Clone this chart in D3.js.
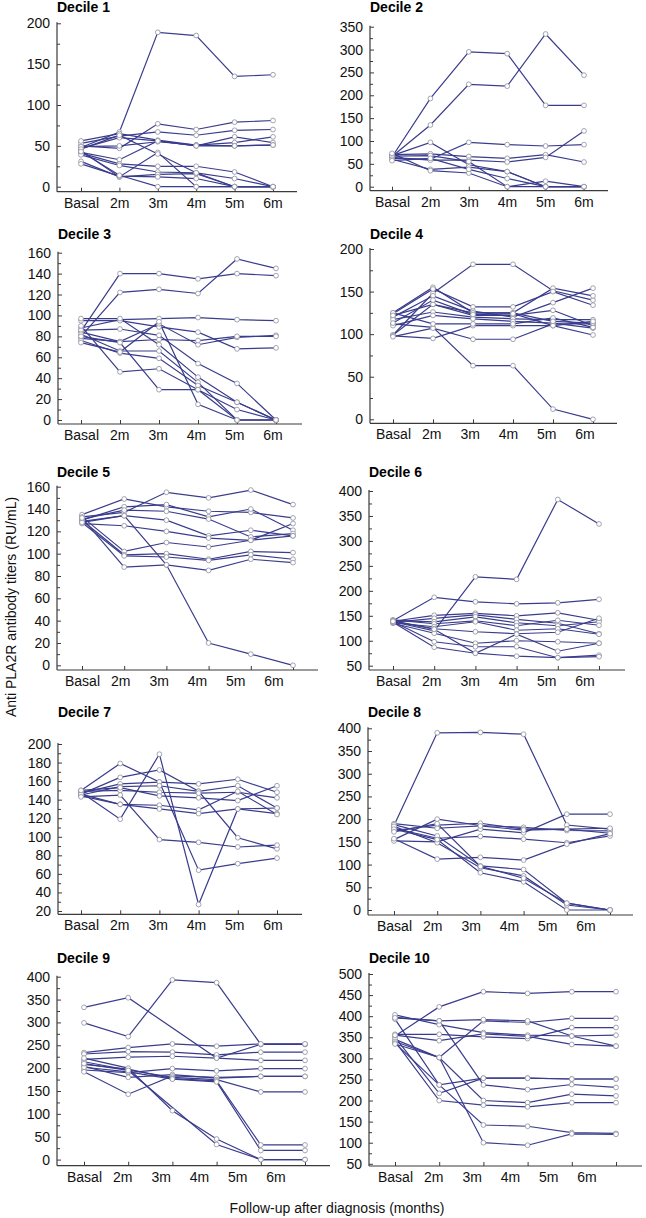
<!DOCTYPE html>
<html>
<head>
<meta charset="utf-8">
<script src="https://cdn.jsdelivr.net/npm/d3@7"></script>
<style>
  html, body { margin: 0; padding: 0; background: #fff; }
  svg { display: block; font-family: "Liberation Sans", Arial, sans-serif; }
</style>
</head>
<body>
<svg id="chart" width="646" height="1218"></svg>
<script>
// ---------- DATA ----------
const categories = ["Basal", "2m", "3m", "4m", "5m", "6m"];

const decile1 = [
  [48, 67, 189, 185, 135, 137],
  [50, 47, 77, 70, 79, 81],
  [53, 62, 67, 63, 69, 70],
  [56, 65, 57, 51, 54, 61],
  [47, 60, 56, 50, 61, 54],
  [49, 50, 55, 51, 50, 51],
  [44, 12, 42, 0, 0, 0],
  [42, 33, 56, 50, 50, 51],
  [41, 28, 25, 25, 18, 0],
  [39, 26, 18, 17, 10, 0],
  [31, 12, 15, 16, 0, 0],
  [28, 13, 12, 10, 0, 0],
  [46, 63, 40, 17, 0, 0],
  [43, 14, 0, 0, 0, 0]
];
const decile2 = [
  [65, 193, 295, 291, 178, 178],
  [66, 135, 224, 220, 334, 244],
  [68, 97, 48, 33, 0, 0],
  [62, 60, 97, 92, 89, 92],
  [70, 72, 66, 62, 70, 54],
  [64, 58, 58, 54, 64, 122],
  [67, 68, 55, 0, 12, 0],
  [60, 38, 43, 33, 0, 0],
  [73, 35, 30, 0, 0, 0],
  [57, 62, 38, 18, 0, 0]
];
const decile3 = [
  [85, 140, 140, 135, 140, 138],
  [80, 122, 125, 121, 154, 145],
  [88, 96, 97, 98, 96, 95],
  [95, 95, 89, 84, 68, 69],
  [78, 75, 92, 72, 79, 81],
  [84, 75, 77, 76, 80, 80],
  [86, 87, 81, 54, 35, 0],
  [97, 97, 72, 41, 17, 0],
  [82, 66, 66, 36, 0, 0],
  [76, 64, 59, 33, 17, 0],
  [90, 46, 49, 29, 10, 0],
  [80, 74, 29, 29, 0, 0],
  [74, 65, 94, 15, 0, 0]
];
const decile4 = [
  [99, 148, 182, 182, 151, 140],
  [112, 108, 63, 63, 12, 0],
  [125, 155, 125, 125, 154, 145],
  [124, 153, 132, 132, 150, 134],
  [120, 145, 127, 120, 137, 154],
  [99, 135, 122, 122, 128, 110],
  [117, 126, 120, 118, 117, 117],
  [110, 122, 118, 115, 113, 107],
  [98, 95, 110, 110, 110, 99],
  [97, 107, 94, 94, 112, 112],
  [125, 112, 112, 112, 119, 108],
  [122, 135, 125, 125, 115, 113],
  [113, 140, 123, 124, 110, 115]
];
const decile5 = [
  [133, 137, 155, 150, 157, 144],
  [135, 149, 142, 138, 137, 132],
  [130, 142, 144, 133, 140, 121],
  [131, 139, 138, 131, 115, 118],
  [128, 134, 130, 116, 121, 116],
  [127, 125, 120, 114, 112, 127],
  [129, 134, 90, 20, 10, 0],
  [133, 102, 110, 106, 112, 116],
  [130, 99, 100, 95, 102, 101],
  [128, 98, 97, 94, 99, 95],
  [132, 88, 90, 85, 95, 92]
];
const decile6 = [
  [138, 120, 228, 223, 383, 334],
  [140, 187, 178, 174, 176, 183],
  [139, 151, 155, 150, 156, 141],
  [137, 145, 152, 143, 135, 114],
  [141, 138, 148, 136, 130, 138],
  [142, 134, 140, 130, 141, 131],
  [136, 128, 138, 121, 124, 113],
  [140, 124, 118, 114, 117, 145],
  [135, 115, 95, 100, 98, 95],
  [138, 98, 88, 88, 66, 71],
  [137, 87, 75, 69, 66, 68],
  [139, 123, 75, 113, 79, 95]
];
const decile7 = [
  [148, 119, 189, 27, 130, 125],
  [150, 179, 159, 64, 71, 77],
  [146, 164, 172, 149, 99, 87],
  [147, 157, 159, 157, 162, 148],
  [145, 154, 155, 149, 155, 131],
  [149, 150, 148, 147, 148, 142],
  [144, 135, 134, 129, 149, 124],
  [146, 135, 130, 125, 130, 131],
  [143, 145, 97, 94, 89, 91],
  [150, 153, 144, 142, 139, 155]
];
const decile8 = [
  [186, 390, 391, 387, 187, 178],
  [155, 200, 186, 182, 175, 174],
  [152, 150, 178, 170, 211, 211],
  [180, 158, 162, 156, 148, 163],
  [175, 187, 191, 178, 178, 180],
  [190, 180, 185, 176, 178, 169],
  [157, 112, 116, 110, 145, 168],
  [188, 163, 97, 89, 15, 0],
  [184, 148, 93, 75, 11, 0],
  [178, 155, 82, 62, 0, 0],
  [172, 190, 96, 70, 15, 0]
];
const decile9 = [
  [299, 269, 393, 387, 252, 252],
  [333, 354, null, 222, 252, 252],
  [234, 245, 253, 248, 253, 253],
  [231, 236, 235, 229, 235, 235],
  [219, 224, 226, 222, 217, 217],
  [196, 190, 199, 194, 199, 199],
  [204, 180, 186, 178, 182, 182],
  [192, 143, 183, 180, 182, 182],
  [214, 196, 180, 175, 148, 148],
  [208, 198, 177, 172, 32, 32],
  [202, 192, 176, 170, 20, 20],
  [222, 200, 107, 45, 0, 0],
  [210, 195, null, 33, 0, 0]
];
const decile10 = [
  [353, 422, 458, 454, 458, 458],
  [340, 302, 389, 385, 395, 395],
  [397, 389, 392, 389, 353, 329],
  [403, 380, 361, 355, 353, 355],
  [357, 357, 351, 347, 373, 373],
  [393, 237, 253, 253, 251, 251],
  [350, 217, 253, 253, 251, 251],
  [396, 389, 237, 226, 238, 231],
  [345, 302, 200, 195, 215, 211],
  [340, 200, 189, 185, 195, 195],
  [336, 237, 142, 139, 124, 122],
  [334, 302, 100, 94, 121, 120],
  [355, 342, 358, 352, 333, 329]
];

const yTicks1 = [0, 50, 100, 150, 200];
const yTicks2 = [0, 50, 100, 150, 200, 250, 300, 350];
const yTicks3 = [0, 20, 40, 60, 80, 100, 120, 140, 160];
const yTicks4 = [0, 50, 100, 150, 200];
const yTicks5 = [0, 20, 40, 60, 80, 100, 120, 140, 160];
const yTicks6 = [50, 100, 150, 200, 250, 300, 350, 400];
const yTicks7 = [20, 40, 60, 80, 100, 120, 140, 160, 180, 200];
const yTicks8 = [0, 50, 100, 150, 200, 250, 300, 350, 400];
const yTicks9 = [0, 50, 100, 150, 200, 250, 300, 350, 400];
const yTicks10 = [50, 100, 150, 200, 250, 300, 350, 400, 450, 500];

const titles = ["Decile 1","Decile 2","Decile 3","Decile 4","Decile 5","Decile 6","Decile 7","Decile 8","Decile 9","Decile 10"];
const yLabel = "Anti PLA2R antibody titers (RU/mL)";
const xLabel = "Follow-up after diagnosis (months)";

// ---------- LAYOUT ----------
const layout = [
  {ax:57,  x0:81,  x1:273, xe:297, yLo:186.7, yHi:23.3,  axY:191.7, tY:12},
  {ax:370, x0:392, x1:584, xe:608, yLo:186.7, yHi:26.7,  axY:190.7, tY:12},
  {ax:58,  x0:81,  x1:276, xe:302, yLo:420,   yHi:252.7, axY:424,   tY:239},
  {ax:370, x0:393, x1:593, xe:617, yLo:419.3, yHi:249,   axY:423.3, tY:239},
  {ax:57,  x0:82,  x1:293, xe:318, yLo:665.3, yHi:486.7, axY:670,   tY:477},
  {ax:369, x0:393, x1:599, xe:625, yLo:665.7, yHi:491,   axY:670,   tY:477},
  {ax:58,  x0:81,  x1:277, xe:302, yLo:911,   yHi:744,   axY:914.3, tY:717},
  {ax:368, x0:394, x1:610, xe:633, yLo:910,   yHi:728.3, axY:915,   tY:717},
  {ax:57,  x0:84,  x1:305, xe:330, yLo:1159.6,yHi:976.7, axY:1165.7,tY:963},
  {ax:369, x0:395, x1:616, xe:642, yLo:1163.8,yHi:974,   axY:1166,  tY:963}
];
const datasets = [decile1, decile2, decile3, decile4, decile5, decile6, decile7, decile8, decile9, decile10];
const tickSets = [yTicks1, yTicks2, yTicks3, yTicks4, yTicks5, yTicks6, yTicks7, yTicks8, yTicks9, yTicks10];

const lineColor = "#3a3c8c";
const axisColor = "#3a3a3a";
const labelStep = 38.3;

const svg = d3.select("#chart");

datasets.forEach((data, p) => {
  const L = layout[p];
  const ticks = tickSets[p];
  const g = svg.append("g");

  const x = d3.scaleLinear().domain([0, categories.length - 1]).range([L.x0, L.x1]);
  const y = d3.scaleLinear().domain([ticks[0], ticks[ticks.length - 1]]).range([L.yLo, L.yHi]);
  const xl = d3.scaleLinear().domain([0, categories.length - 1])
               .range([L.x0, L.x0 + labelStep * (categories.length - 1)]);

  // title
  g.append("text").attr("x", L.ax).attr("y", L.tY)
    .attr("font-size", 14).attr("font-weight", "bold").attr("fill", "#000")
    .text(titles[p]);

  // y axis major
  const step = ticks[1] - ticks[0];
  const minor = ticks.slice(0, -1).map(t => t + step / 2);
  const yAxis = d3.axisLeft(y).tickValues(ticks).tickSize(-4).tickSizeOuter(0).tickPadding(7);
  const gy = g.append("g").attr("transform", `translate(${L.ax},0)`).call(yAxis);
  gy.select(".domain").remove();
  gy.selectAll(".tick line").attr("stroke", axisColor);
  gy.selectAll(".tick text").attr("font-size", 14).attr("fill", "#111")
    .attr("font-family", "Liberation Sans, Arial, sans-serif");
  const gym = g.append("g").attr("transform", `translate(${L.ax},0)`)
    .call(d3.axisLeft(y).tickValues(minor).tickSize(-3).tickFormat(""));
  gym.select(".domain").remove();
  gym.selectAll(".tick line").attr("stroke", axisColor);
  g.append("line").attr("x1", L.ax).attr("x2", L.ax).attr("y1", L.yHi - 1).attr("y2", L.axY)
    .attr("stroke", axisColor).attr("stroke-width", 1.2);

  // x axis
  const gx = g.append("g").attr("transform", `translate(0,${L.axY})`)
    .call(d3.axisBottom(x).tickValues(d3.range(categories.length)).tickSize(-4).tickFormat(""));
  gx.select(".domain").remove();
  gx.selectAll(".tick line").attr("stroke", axisColor);
  g.append("line").attr("x1", L.ax).attr("x2", L.xe).attr("y1", L.axY).attr("y2", L.axY)
    .attr("stroke", axisColor).attr("stroke-width", 1.2);
  const gxl = g.append("g").attr("transform", `translate(0,${L.axY})`)
    .call(d3.axisBottom(xl).tickValues(d3.range(categories.length)).tickSize(0).tickPadding(6)
      .tickFormat(i => categories[i]));
  gxl.select(".domain").remove();
  gxl.selectAll(".tick text").attr("font-size", 14).attr("fill", "#111")
    .attr("font-family", "Liberation Sans, Arial, sans-serif");

  // lines
  const line = d3.line().x(d => x(d.i)).y(d => y(d.v));
  data.forEach(series => {
    const pts = series.map((v, i) => ({i, v})).filter(d => d.v !== null);
    g.append("path").datum(pts).attr("d", line)
      .attr("fill", "none").attr("stroke", lineColor).attr("stroke-width", 1.2);
  });
  data.forEach(series => {
    const pts = series.map((v, i) => ({i, v})).filter(d => d.v !== null);
    g.selectAll(null).data(pts).enter().append("circle")
      .attr("cx", d => x(d.i)).attr("cy", d => y(d.v)).attr("r", 2.4)
      .attr("fill", "#fff").attr("stroke", "#8e8ea0").attr("stroke-width", 0.8);
  });
});

// axis titles
svg.append("text").attr("transform", "translate(16,607) rotate(-90)")
  .attr("text-anchor", "middle").attr("font-size", 14).attr("fill", "#111").text(yLabel);
svg.append("text").attr("x", 337).attr("y", 1213)
  .attr("text-anchor", "middle").attr("font-size", 14).attr("fill", "#111").text(xLabel);
</script>
</body>
</html>
